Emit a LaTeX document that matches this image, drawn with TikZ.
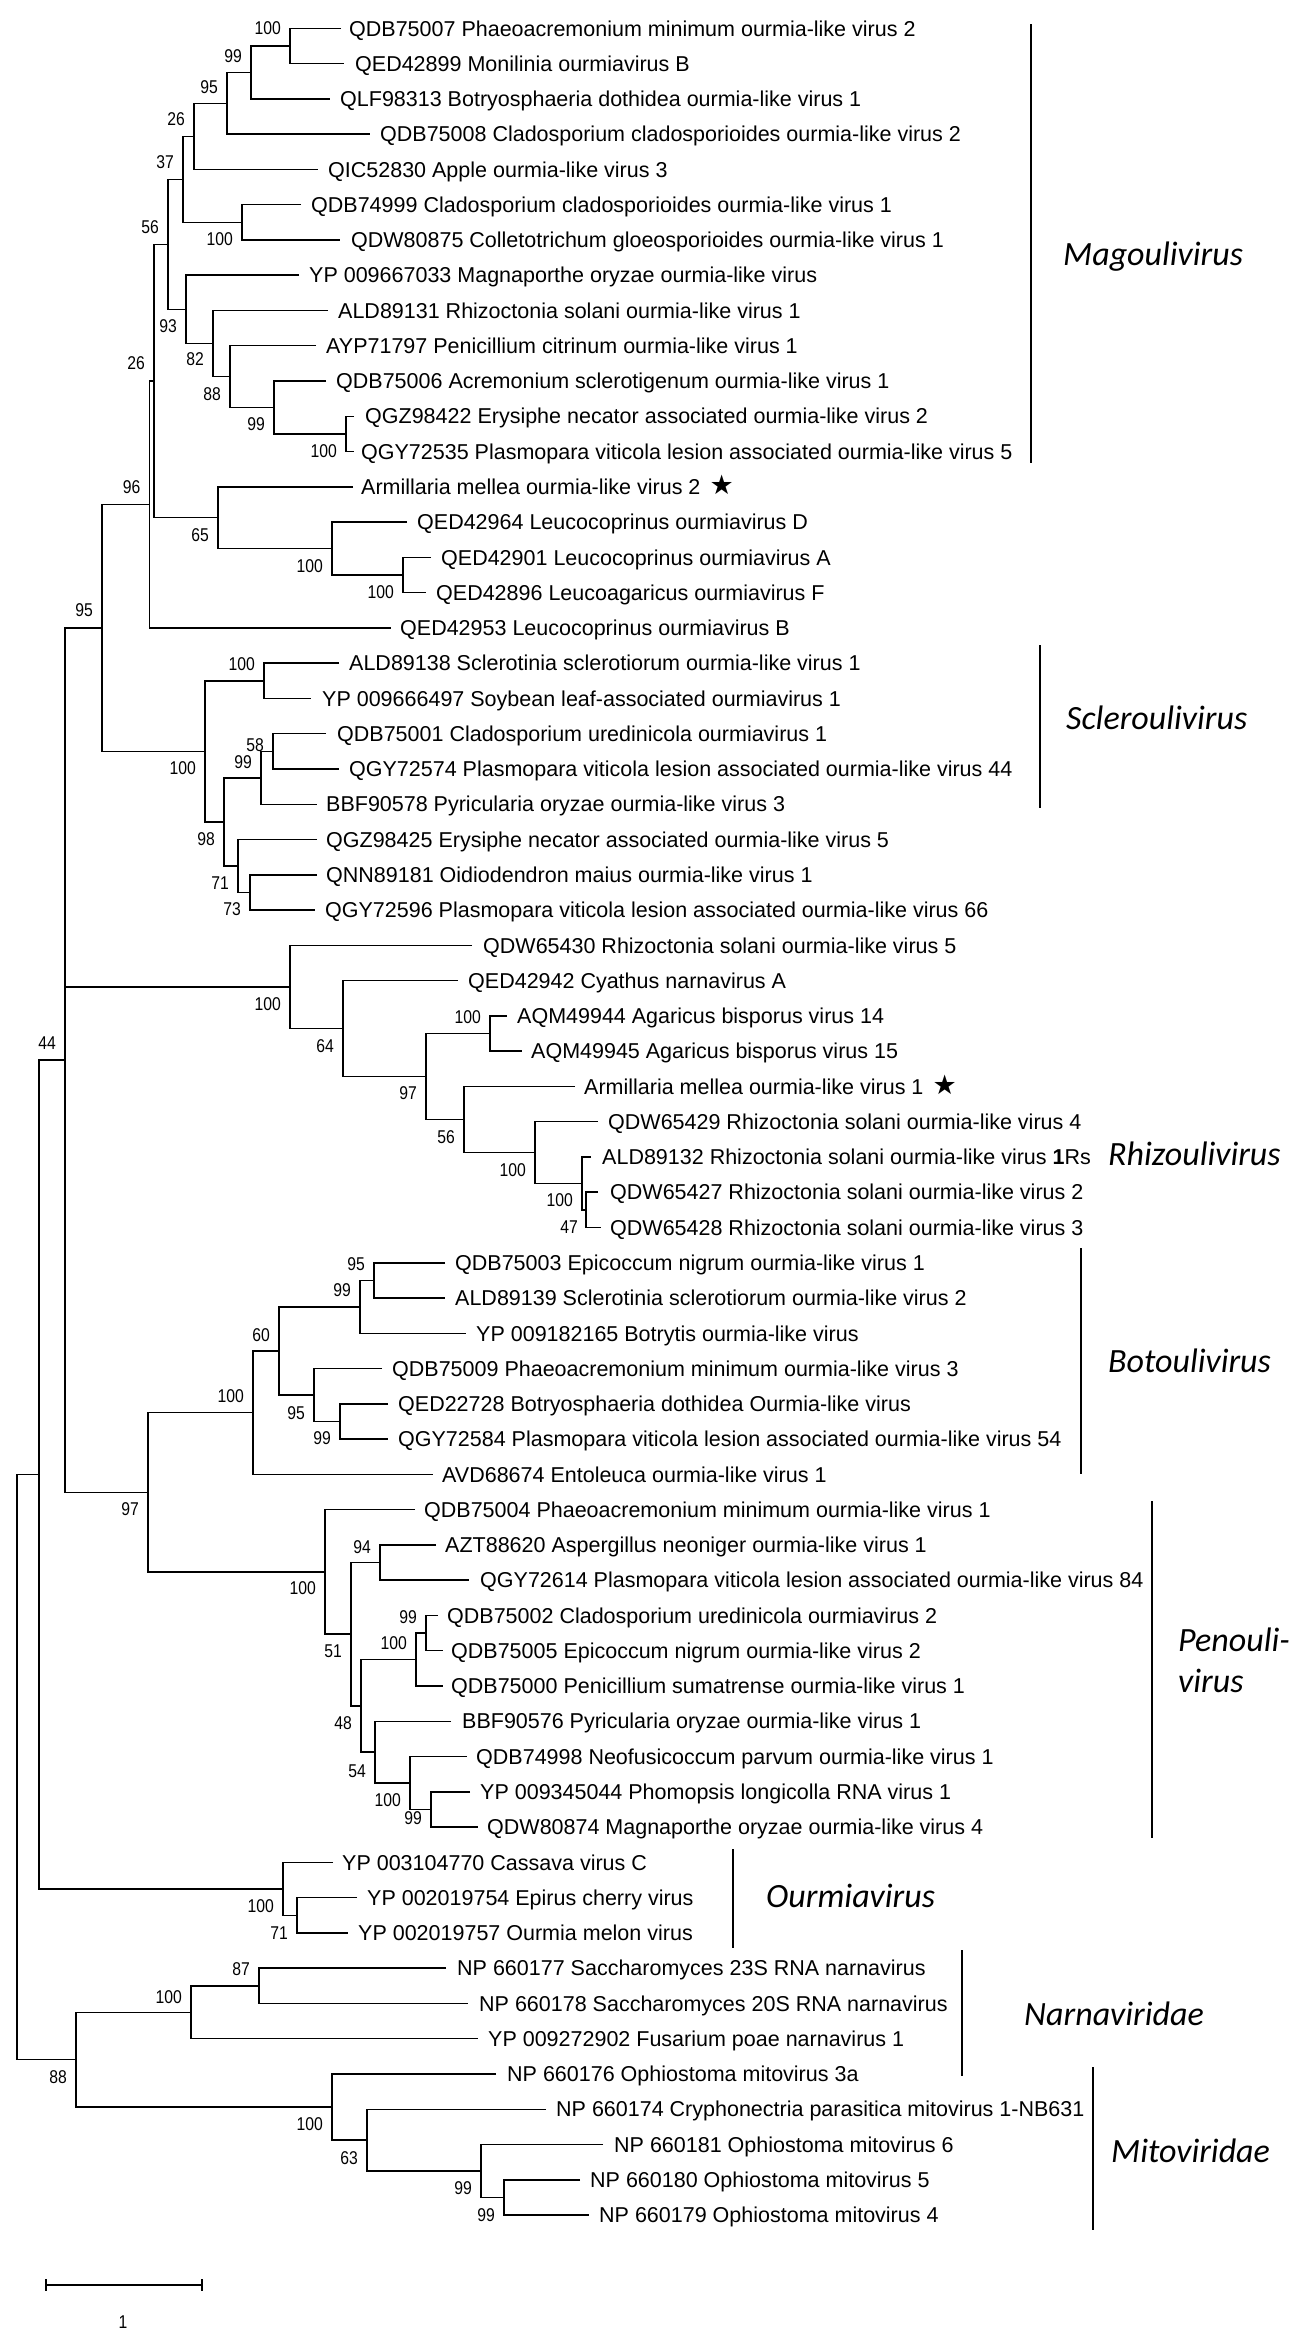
\documentclass[tikz,border=0pt]{standalone}
\usepackage{fontspec}
\setmainfont{Liberation Sans}
\newfontfamily\bsfont[FakeStretch=0.85]{Liberation Sans}
\newfontfamily\cladefont{Carlito}
\newfontfamily\starfont{DejaVu Sans}
\newcommand\tipleaf[4]{%
  \pgfmathsetmacro\lfy{28.3+35.27*(#1-1)}%
  \coordinate (t#1) at (#2,\lfy);
  \node[leaf] (n#1) at (#3,\lfy+7.7) {#4};}
\newcommand\kids[3]{\draw[br] (#2) -| (#1) |- (#3);}
\newcommand\bsl[4]{\node[bs] (b#1) at (#2,#3) {#4};}
\newcommand\stargl{\hspace{9pt}{\starfont\fontsize{27}{27}\selectfont ★}}
\begin{document}
\begin{tikzpicture}[x=1pt,y=-1pt,
  br/.style={line width=1.5pt,line join=miter},
  leaf/.style={font=\fontsize{21.5}{24}\selectfont,inner sep=0pt,anchor=base west},
  bs/.style={font=\bsfont\fontsize{18.5}{20}\selectfont,inner sep=0pt,anchor=east},
  cbar/.style={line width=2.8pt},
  clade/.style={font=\cladefont\itshape\fontsize{34}{41}\selectfont,inner sep=0pt,anchor=base west}]
\useasboundingbox (0,0) rectangle (1298,2332);

% ---------- leaves ----------
\tipleaf{1}{341}{349}{QDB75007 Phaeoacremonium minimum ourmia-like virus 2}
\tipleaf{2}{344}{355}{QED42899 Monilinia ourmiavirus B}
\tipleaf{3}{330}{340}{QLF98313 Botryosphaeria dothidea ourmia-like virus 1}
\tipleaf{4}{370}{380}{QDB75008 Cladosporium cladosporioides ourmia-like virus 2}
\tipleaf{5}{318}{328}{QIC52830 Apple ourmia-like virus 3}
\tipleaf{6}{301}{311}{QDB74999 Cladosporium cladosporioides ourmia-like virus 1}
\tipleaf{7}{340}{351}{QDW80875 Colletotrichum gloeosporioides ourmia-like virus 1}
\tipleaf{8}{299}{309}{YP 009667033 Magnaporthe oryzae ourmia-like virus}
\tipleaf{9}{328}{338}{ALD89131 Rhizoctonia solani ourmia-like virus 1}
\tipleaf{10}{316}{326}{AYP71797 Penicillium citrinum ourmia-like virus 1}
\tipleaf{11}{326}{336}{QDB75006 Acremonium sclerotigenum ourmia-like virus 1}
\tipleaf{12}{354}{365}{QGZ98422 Erysiphe necator associated ourmia-like virus 2}
\tipleaf{13}{354}{361}{QGY72535 Plasmopara viticola lesion associated ourmia-like virus 5}
\tipleaf{14}{353}{361}{Armillaria mellea ourmia-like virus 2\stargl}
\tipleaf{15}{407}{417}{QED42964 Leucocoprinus ourmiavirus D}
\tipleaf{16}{431}{441}{QED42901 Leucocoprinus ourmiavirus A}
\tipleaf{17}{426}{436}{QED42896 Leucoagaricus ourmiavirus F}
\tipleaf{18}{391}{400}{QED42953 Leucocoprinus ourmiavirus B}
\tipleaf{19}{339}{349}{ALD89138 Sclerotinia sclerotiorum ourmia-like virus 1}
\tipleaf{20}{311}{322}{YP 009666497 Soybean leaf-associated ourmiavirus 1}
\tipleaf{21}{326}{337}{QDB75001 Cladosporium uredinicola ourmiavirus 1}
\tipleaf{22}{339}{349}{QGY72574 Plasmopara viticola lesion associated ourmia-like virus 44}
\tipleaf{23}{317}{326}{BBF90578 Pyricularia oryzae ourmia-like virus 3}
\tipleaf{24}{317}{326}{QGZ98425 Erysiphe necator associated ourmia-like virus 5}
\tipleaf{25}{317}{326}{QNN89181 Oidiodendron maius ourmia-like virus 1}
\tipleaf{26}{315}{325}{QGY72596 Plasmopara viticola lesion associated ourmia-like virus 66}
\tipleaf{27}{472}{483}{QDW65430 Rhizoctonia solani ourmia-like virus 5}
\tipleaf{28}{458}{468}{QED42942 Cyathus narnavirus A}
\tipleaf{29}{507}{517}{AQM49944 Agaricus bisporus virus 14}
\tipleaf{30}{522}{531}{AQM49945 Agaricus bisporus virus 15}
\tipleaf{31}{575}{584}{Armillaria mellea ourmia-like virus 1\stargl}
\tipleaf{32}{598}{608}{QDW65429 Rhizoctonia solani ourmia-like virus 4}
\tipleaf{33}{591}{602}{ALD89132 Rhizoctonia solani ourmia-like virus \textbf{1}Rs}
\tipleaf{34}{598}{610}{QDW65427 Rhizoctonia solani ourmia-like virus 2}
\tipleaf{35}{601}{610}{QDW65428 Rhizoctonia solani ourmia-like virus 3}
\tipleaf{36}{445}{455}{QDB75003 Epicoccum nigrum ourmia-like virus 1}
\tipleaf{37}{445}{455}{ALD89139 Sclerotinia sclerotiorum ourmia-like virus 2}
\tipleaf{38}{466}{476}{YP 009182165 Botrytis ourmia-like virus}
\tipleaf{39}{382}{392}{QDB75009 Phaeoacremonium minimum ourmia-like virus 3}
\tipleaf{40}{388}{398}{QED22728 Botryosphaeria dothidea Ourmia-like virus}
\tipleaf{41}{388}{398}{QGY72584 Plasmopara viticola lesion associated ourmia-like virus 54}
\tipleaf{42}{433}{442}{AVD68674 Entoleuca ourmia-like virus 1}
\tipleaf{43}{415}{424}{QDB75004 Phaeoacremonium minimum ourmia-like virus 1}
\tipleaf{44}{436}{445}{AZT88620 Aspergillus neoniger ourmia-like virus 1}
\tipleaf{45}{469}{480}{QGY72614 Plasmopara viticola lesion associated ourmia-like virus 84}
\tipleaf{46}{438}{447}{QDB75002 Cladosporium uredinicola ourmiavirus 2}
\tipleaf{47}{443}{451}{QDB75005 Epicoccum nigrum ourmia-like virus 2}
\tipleaf{48}{443}{451}{QDB75000 Penicillium sumatrense ourmia-like virus 1}
\tipleaf{49}{451}{462}{BBF90576 Pyricularia oryzae ourmia-like virus 1}
\tipleaf{50}{467}{476}{QDB74998 Neofusicoccum parvum ourmia-like virus 1}
\tipleaf{51}{470}{480}{YP 009345044 Phomopsis longicolla RNA virus 1}
\tipleaf{52}{478}{487}{QDW80874 Magnaporthe oryzae ourmia-like virus 4}
\tipleaf{53}{333}{342}{YP 003104770 Cassava virus C}
\tipleaf{54}{357}{367}{YP 002019754 Epirus cherry virus}
\tipleaf{55}{348}{358}{YP 002019757 Ourmia melon virus}
\tipleaf{56}{446}{457}{NP 660177 Saccharomyces 23S RNA narnavirus}
\tipleaf{57}{468}{479}{NP 660178 Saccharomyces 20S RNA narnavirus}
\tipleaf{58}{478}{488}{YP 009272902 Fusarium poae narnavirus 1}
\tipleaf{59}{496}{507}{NP 660176 Ophiostoma mitovirus 3a}
\tipleaf{60}{546}{556}{NP 660174 Cryphonectria parasitica mitovirus 1-NB631}
\tipleaf{61}{603}{614}{NP 660181 Ophiostoma mitovirus 6}
\tipleaf{62}{580}{590}{NP 660180 Ophiostoma mitovirus 5}
\tipleaf{63}{589}{599}{NP 660179 Ophiostoma mitovirus 4}

% ---------- internal nodes ----------
\coordinate (A) at (290,45.94);
\coordinate (B) at (251,72.39);
\coordinate (C) at (227,103.25);
\coordinate (D) at (194,136.32);
\coordinate (E) at (242,222.29);
\coordinate (F) at (183,179.3);
\coordinate (K) at (346,433.9);
\coordinate (J) at (274,407.45);
\coordinate (I) at (230,376.59);
\coordinate (H) at (213,343.53);
\coordinate (G) at (186,309.36);
\coordinate (L) at (168,244.33);
\coordinate (P) at (403,574.99);
\coordinate (O) at (332,548.53);
\coordinate (N) at (218,517.67);
\coordinate (R) at (154,381.0);
\coordinate (S) at (149.5,504.45);
\coordinate (V) at (264,680.8);
\coordinate (Z) at (273,751.34);
\coordinate (X) at (261,777.79);
\coordinate (Y2) at (250,892.42);
\coordinate (Y) at (238,865.96);
\coordinate (W) at (224,821.88);
\coordinate (U) at (205,751.34);
\coordinate (T) at (102,627.9);
\coordinate (AD) at (490,1033.5);
\coordinate (AH) at (586,1209.85);
\coordinate (AG) at (582,1183.4);
\coordinate (AF) at (535,1152.5);
\coordinate (AE) at (464,1119.45);
\coordinate (AC) at (426,1076.5);
\coordinate (AB) at (343,1028.5);
\coordinate (AA) at (290,986.9);
\coordinate (AY) at (374,1280.39);
\coordinate (AW) at (360,1306.84);
\coordinate (AZ) at (340,1421.47);
\coordinate (AX) at (314,1395.0);
\coordinate (AV) at (279,1350.92);
\coordinate (AU) at (253,1412.65);
\coordinate (BC) at (380,1562.55);
\coordinate (BG) at (426,1633.09);
\coordinate (BE) at (416,1659.54);
\coordinate (BI) at (431,1809.44);
\coordinate (BH) at (410,1782.99);
\coordinate (BF) at (375,1752.13);
\coordinate (BD) at (361,1705.84);
\coordinate (BB) at (351,1634.2);
\coordinate (BA) at (325,1571.92);
\coordinate (AJ) at (148,1492.29);
\coordinate (AI) at (65,1060.1);
\coordinate (AM) at (297,1915.25);
\coordinate (AL) at (283,1888.8);
\coordinate (AK) at (39,1474.45);
\coordinate (AP) at (259,1985.79);
\coordinate (AO) at (191,2012.24);
\coordinate (AT) at (504,2197.4);
\coordinate (AS) at (481,2170.95);
\coordinate (AR) at (367,2140.09);
\coordinate (AQ) at (332,2107.03);
\coordinate (AN) at (76,2059.64);
\coordinate (root) at (17,1767.0);

% ---------- branches ----------
\kids{A}{t1}{t2}
\kids{B}{A}{t3}
\kids{C}{B}{t4}
\kids{D}{C}{t5}
\kids{E}{t6}{t7}
\kids{F}{D}{E}
\kids{K}{t12}{t13}
\kids{J}{t11}{K}
\kids{I}{t10}{J}
\kids{H}{t9}{I}
\kids{G}{t8}{H}
\kids{L}{F}{G}
\kids{P}{t16}{t17}
\kids{O}{t15}{P}
\kids{N}{t14}{O}
\kids{R}{L}{N}
\kids{S}{R}{t18}
\kids{V}{t19}{t20}
\kids{Z}{t21}{t22}
\kids{X}{Z}{t23}
\kids{Y2}{t25}{t26}
\kids{Y}{t24}{Y2}
\kids{W}{X}{Y}
\kids{U}{V}{W}
\kids{T}{S}{U}
\kids{AD}{t29}{t30}
\kids{AH}{t34}{t35}
\kids{AG}{t33}{AH}
\kids{AF}{t32}{AG}
\kids{AE}{t31}{AF}
\kids{AC}{AD}{AE}
\kids{AB}{t28}{AC}
\kids{AA}{t27}{AB}
\kids{AY}{t36}{t37}
\kids{AW}{AY}{t38}
\kids{AZ}{t40}{t41}
\kids{AX}{t39}{AZ}
\kids{AV}{AW}{AX}
\kids{AU}{AV}{t42}
\kids{BC}{t44}{t45}
\kids{BG}{t46}{t47}
\kids{BE}{BG}{t48}
\kids{BI}{t51}{t52}
\kids{BH}{t50}{BI}
\kids{BF}{t49}{BH}
\kids{BD}{BE}{BF}
\kids{BB}{BC}{BD}
\kids{BA}{t43}{BB}
\kids{AJ}{AU}{BA}
\kids{AI}{T}{AJ}
\draw[br] (AI) |- (AA);
\kids{AM}{t54}{t55}
\kids{AL}{t53}{AM}
\kids{AK}{AI}{AL}
\kids{AP}{t56}{t57}
\kids{AO}{AP}{t58}
\kids{AT}{t62}{t63}
\kids{AS}{t61}{AT}
\kids{AR}{t60}{AS}
\kids{AQ}{t59}{AR}
\kids{AN}{AO}{AQ}
\kids{root}{AK}{AN}

% ---------- bootstrap values ----------
\bsl{A}{281}{28}{100}
\bsl{B}{242}{56}{99}
\bsl{C}{218}{87}{95}
\bsl{D}{185}{119}{26}
\bsl{F}{174}{162}{37}
\bsl{L}{159}{227}{56}
\bsl{E}{233}{239}{100}
\bsl{G}{177}{326}{93}
\bsl{H}{204}{359}{82}
\bsl{R}{145}{363}{26}
\bsl{I}{221}{394}{88}
\bsl{J}{265}{424}{99}
\bsl{K}{337}{451}{100}
\bsl{S}{140.5}{487}{96}
\bsl{N}{209}{535}{65}
\bsl{O}{323}{566}{100}
\bsl{P}{394}{592}{100}
\bsl{T}{93}{610}{95}
\bsl{V}{255}{664}{100}
\bsl{Z}{264}{745}{58}
\bsl{X}{252}{762}{99}
\bsl{U}{196}{768}{100}
\bsl{W}{215}{839}{98}
\bsl{Y}{229}{883}{71}
\bsl{Y2}{241}{909}{73}
\bsl{AA}{281}{1004}{100}
\bsl{AD}{481}{1017}{100}
\bsl{AI}{56}{1043}{44}
\bsl{AB}{334}{1046}{64}
\bsl{AC}{417}{1093}{97}
\bsl{AE}{455}{1137}{56}
\bsl{AF}{526}{1170}{100}
\bsl{AG}{573}{1200}{100}
\bsl{AH}{578}{1227}{47}
\bsl{AY}{365}{1264}{95}
\bsl{AW}{351}{1290}{99}
\bsl{AV}{270}{1335}{60}
\bsl{AU}{244}{1396}{100}
\bsl{AX}{305}{1413}{95}
\bsl{AZ}{331}{1438}{99}
\bsl{AJ}{139}{1509}{97}
\bsl{BC}{371}{1547}{94}
\bsl{BA}{316}{1588}{100}
\bsl{BG}{417}{1617}{99}
\bsl{BE}{407}{1643}{100}
\bsl{BB}{342}{1651}{51}
\bsl{BD}{352}{1723}{48}
\bsl{BF}{366}{1771}{54}
\bsl{BH}{401}{1800}{100}
\bsl{BI}{422}{1818}{99}
\bsl{AL}{274}{1906}{100}
\bsl{AM}{288}{1933}{71}
\bsl{AP}{250}{1969}{87}
\bsl{AO}{182}{1997}{100}
\bsl{AN}{67}{2077}{88}
\bsl{AQ}{323}{2124}{100}
\bsl{AR}{358}{2158}{63}
\bsl{AS}{472}{2188}{99}
\bsl{AT}{495}{2215}{99}

% ---------- clade bars ----------
\coordinate (magT) at (1031,24);   \coordinate (magB) at (1031,463);
\coordinate (sclT) at (1040,645);  \coordinate (sclB) at (1040,808);
\coordinate (botT) at (1081,1248); \coordinate (botB) at (1081,1474);
\coordinate (penT) at (1152,1501); \coordinate (penB) at (1152,1838);
\coordinate (ourT) at (733,1849);  \coordinate (ourB) at (733,1948);
\coordinate (narT) at (962,1950);  \coordinate (narB) at (962,2076);
\coordinate (mitT) at (1093,2067); \coordinate (mitB) at (1093,2230);
\draw[cbar] (magT) -- (magB);
\draw[cbar] (sclT) -- (sclB);
\draw[cbar] (botT) -- (botB);
\draw[cbar] (penT) -- (penB);
\draw[cbar] (ourT) -- (ourB);
\draw[cbar] (narT) -- (narB);
\draw[cbar] (mitT) -- (mitB);

% ---------- clade names ----------
\node[clade] (cMag) at (1063,265) {Magoulivirus};
\node[clade] (cScl) at (1066,729) {Scleroulivirus};
\node[clade] (cRhi) at (1108,1165) {Rhizoulivirus};
\node[clade] (cBot) at (1108,1372) {Botoulivirus};
\node[clade] (cPen1) at (1178,1651) {Penouli-};
\node[clade] (cPen2) at (1178,1692) {virus};
\node[clade] (cOur) at (766,1907) {Ourmiavirus};
\node[clade] (cNar) at (1024,2025) {Narnaviridae};
\node[clade] (cMit) at (1111,2162) {Mitoviridae};

% ---------- scale bar ----------
\coordinate (sbA) at (46,2285);   \coordinate (sbB) at (202,2285);
\coordinate (sbA1) at (46,2279);  \coordinate (sbA2) at (46,2291);
\coordinate (sbB1) at (202,2279); \coordinate (sbB2) at (202,2291);
\draw[br] (sbA) -- (sbB);
\draw[br] (sbA1) -- (sbA2);
\draw[br] (sbB1) -- (sbB2);
\node[bs,anchor=center] (sbl) at (123,2322) {1};
\end{tikzpicture}
\end{document}
